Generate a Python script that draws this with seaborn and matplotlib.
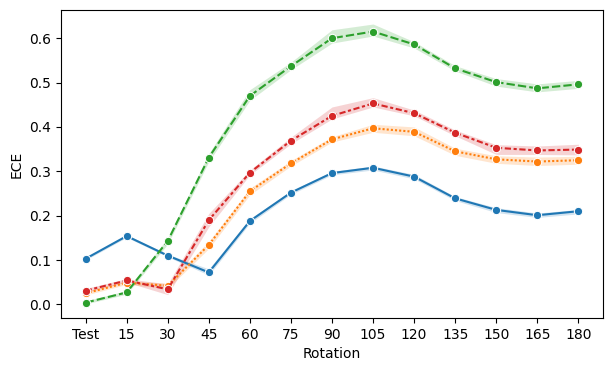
import numpy as np
import pandas as pd
import matplotlib
matplotlib.use("Agg")
import matplotlib.pyplot as plt
import seaborn as sns

rotations = ["Test", "15", "30", "45", "60", "75", "90", "105", "120", "135", "150", "165", "180"]

blue_mean = [0.103, 0.154, 0.110, 0.072, 0.188, 0.252, 0.296, 0.308, 0.288, 0.239, 0.213, 0.201, 0.210]
blue_lo = [0.100, 0.151, 0.107, 0.066, 0.183, 0.248, 0.292, 0.303, 0.283, 0.234, 0.207, 0.196, 0.204]
blue_hi = [0.106, 0.157, 0.113, 0.080, 0.193, 0.256, 0.300, 0.312, 0.293, 0.243, 0.218, 0.206, 0.214]

orange_mean = [0.025, 0.049, 0.042, 0.134, 0.255, 0.318, 0.372, 0.397, 0.389, 0.345, 0.327, 0.322, 0.325]
orange_lo = [0.021, 0.045, 0.036, 0.126, 0.247, 0.312, 0.366, 0.388, 0.380, 0.336, 0.318, 0.313, 0.316]
orange_hi = [0.030, 0.053, 0.048, 0.142, 0.262, 0.324, 0.378, 0.406, 0.400, 0.352, 0.335, 0.332, 0.334]

green_mean = [0.004, 0.027, 0.143, 0.331, 0.470, 0.537, 0.600, 0.615, 0.586, 0.532, 0.501, 0.487, 0.496]
green_lo = [0.001, 0.023, 0.136, 0.322, 0.460, 0.529, 0.589, 0.605, 0.578, 0.526, 0.492, 0.479, 0.487]
green_hi = [0.008, 0.031, 0.150, 0.340, 0.484, 0.546, 0.619, 0.632, 0.592, 0.538, 0.509, 0.497, 0.505]

red_mean = [0.031, 0.054, 0.034, 0.190, 0.297, 0.369, 0.425, 0.453, 0.431, 0.387, 0.353, 0.347, 0.349]
red_lo = [0.027, 0.050, 0.022, 0.175, 0.292, 0.362, 0.418, 0.445, 0.425, 0.380, 0.338, 0.338, 0.337]
red_hi = [0.036, 0.058, 0.046, 0.205, 0.303, 0.377, 0.445, 0.466, 0.438, 0.393, 0.360, 0.357, 0.361]

series = {
    "blue": (blue_mean, blue_lo, blue_hi),
    "orange": (orange_mean, orange_lo, orange_hi),
    "green": (green_mean, green_lo, green_hi),
    "red": (red_mean, red_lo, red_hi),
}
colors = dict(zip(series.keys(), sns.color_palette("tab10", 4)))
dashes = {"blue": "", "orange": (1, 1), "green": (4, 1.5), "red": (3, 1.25, 1.5, 1.25)}

rows = []
for name, (mean, lo, hi) in series.items():
    for i, r in enumerate(rotations):
        rows.append({"Rotation": r, "pos": i, "ECE": mean[i], "lo": lo[i], "hi": hi[i], "model": name})
df = pd.DataFrame(rows)

fig, ax = plt.subplots(figsize=(6.13, 3.71), dpi=100)
fig.subplots_adjust(left=0.0995, right=0.9837, top=0.973, bottom=0.143)

for name in series:
    d = df[df.model == name]
    ax.fill_between(d["pos"], d["lo"], d["hi"], color=colors[name], alpha=0.2, linewidth=0)

sns.lineplot(data=df, x="pos", y="ECE", hue="model", style="model", palette=colors,
             dashes=dashes, markers={k: "o" for k in series}, markersize=6,
             markeredgecolor="white", legend=False, ax=ax)

ax.set_xticks(range(len(rotations)))
ax.set_xticklabels(rotations)
ax.set_xlabel("Rotation")
ax.set_ylabel("ECE")

plt.savefig("out.png", dpi=100)
